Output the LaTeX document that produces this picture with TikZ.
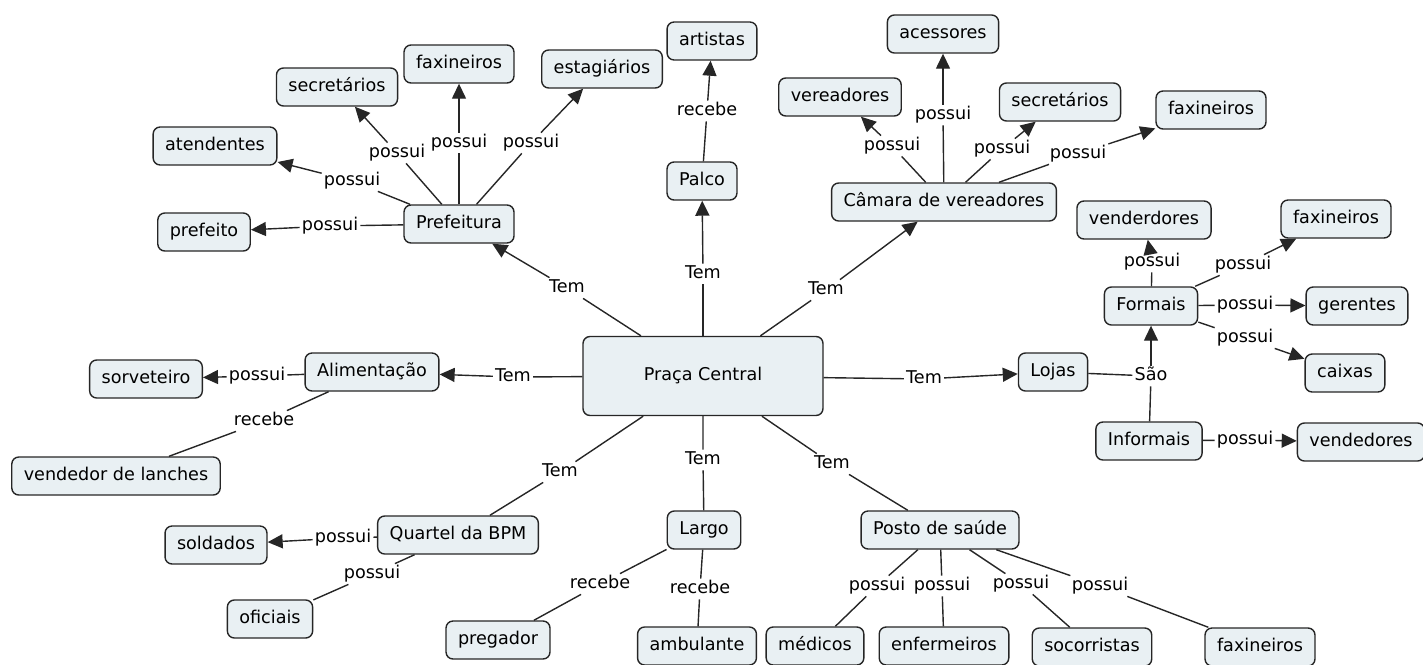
\documentclass[tikz,border=0pt]{standalone}
\usepackage{fontspec}
\setmainfont{DejaVu Sans}
\usetikzlibrary{arrows.meta}
\definecolor{cmapfill}{RGB}{233,240,243}
\begin{document}
\begin{tikzpicture}[
    x=1pt, y=-1pt,
    every node/.style={font=\fontsize{17.6}{20}\selectfont, text height=12.8pt, text depth=3.6pt},
    concept/.style={draw=black!85, fill=cmapfill, rounded corners=7pt, line width=1.4pt, inner xsep=12pt, minimum height=38pt},
    phrase/.style={inner sep=2pt, fill=white},
    link/.style={line width=1.4pt, draw=black!85},
    arr/.style={link, -{Triangle[length=15pt,width=14pt]}}
]
\useasboundingbox (0,0) rectangle (1423,664);
\node[concept, minimum width=240pt, minimum height=79pt] (pc) at (703,376) {Praça Central};
\node[concept] (pref) at (459,224) {Prefeitura};
\node[concept] (prefeito) at (204,232) {prefeito};
\node[concept] (aten) at (215,146) {atendentes};
\node[concept] (sec1) at (337,87) {secretários};
\node[concept] (fax1) at (459,64) {faxineiros};
\node[concept] (estag) at (602,69) {estagiários};
\node[concept] (palco) at (702,181) {Palco};
\node[concept] (art) at (712,41) {artistas};
\node[concept] (cam) at (944,202) {Câmara de vereadores};
\node[concept] (acess) at (943,34) {acessores};
\node[concept] (ver) at (840,97) {vereadores};
\node[concept] (sec2) at (1060,102) {secretários};
\node[concept] (fax2) at (1211,110) {faxineiros};
\node[concept] (lojas) at (1053,372) {Lojas};
\node[concept] (form) at (1151,306) {Formais};
\node[concept] (infor) at (1149,441) {Informais};
\node[concept] (vend1) at (1144,220) {venderdores};
\node[concept] (fax3) at (1336,219) {faxineiros};
\node[concept] (ger) at (1357,306) {gerentes};
\node[concept] (cx) at (1345,373) {caixas};
\node[concept] (vend2) at (1361,442) {vendedores};
\node[concept] (alim) at (372,372) {Alimentação};
\node[concept] (sorv) at (146,379) {sorveteiro};
\node[concept] (lanche) at (116,476) {vendedor de lanches};
\node[concept] (qbpm) at (458,535) {Quartel da BPM};
\node[concept] (sold) at (216,545) {soldados};
\node[concept] (ofic) at (270,619) {oficiais};
\node[concept] (largo) at (704,530) {Largo};
\node[concept] (preg) at (498,640) {pregador};
\node[concept] (amb) at (697,646) {ambulante};
\node[concept] (posto) at (940,530) {Posto de saúde};
\node[concept] (med) at (815,646) {médicos};
\node[concept] (enf) at (944,646) {enfermeiros};
\node[concept] (soc) at (1092,647) {socorristas};
\node[concept] (fax4) at (1260,647) {faxineiros};

\node[phrase] (tpref) at (567,288) {Tem};
\node[phrase] (tpalco) at (703,274) {Tem};
\node[phrase] (tcam) at (826,290) {Tem};
\node[phrase] (tlojas) at (924,379) {Tem};
\node[phrase] (talim) at (513,377) {Tem};
\node[phrase] (tqbpm) at (560,472) {Tem};
\node[phrase] (tlargo) at (703,460) {Tem};
\node[phrase] (tposto) at (832,464) {Tem};
\node[phrase] (pprefeito) at (330,226) {possui};
\node[phrase] (paten) at (352,181) {possui};
\node[phrase] (psec1) at (397,153) {possui};
\node[phrase] (pfax1) at (459,143) {possui};
\node[phrase] (pestag) at (531,143) {possui};
\node[phrase] (rart) at (707,111) {recebe};
\node[phrase] (pver) at (892,146) {possui};
\node[phrase] (pacess) at (943,115) {possui};
\node[phrase] (psec2) at (1002,149) {possui};
\node[phrase] (pfax2) at (1078,154) {possui};
\node[phrase] (sao) at (1151,376) {São};
\node[phrase] (pvend1) at (1152,262) {possui};
\node[phrase] (pfax3) at (1243,265) {possui};
\node[phrase] (pger) at (1245,305) {possui};
\node[phrase] (pcx) at (1245,338) {possui};
\node[phrase] (pvend2) at (1245,440) {possui};
\node[phrase] (psorv) at (257,376) {possui};
\node[phrase] (rlanche) at (264,421) {recebe};
\node[phrase] (psold) at (343,538) {possui};
\node[phrase] (pofic) at (372,574) {possui};
\node[phrase] (rpreg) at (600,584) {recebe};
\node[phrase] (ramb) at (700,589) {recebe};
\node[phrase] (pmed) at (877,586) {possui};
\node[phrase] (penf) at (942,586) {possui};
\node[phrase] (psoc) at (1021,584) {possui};
\node[phrase] (pfax4) at (1100,586) {possui};

\draw[link] (pc) -- (tpref);  \draw[arr] (tpref) -- (pref);
\draw[link] (pc) -- (tpalco); \draw[arr] (tpalco) -- (palco);
\draw[link] (pc) -- (tcam);   \draw[arr] (tcam) -- (cam);
\draw[link] (pc) -- (tlojas); \draw[arr] (tlojas) -- (lojas);
\draw[link] (pc) -- (talim);  \draw[arr] (talim) -- (alim);
\draw[link] (pc) -- (tqbpm) -- (qbpm);
\draw[link] (pc) -- (tlargo) -- (largo);
\draw[link] (pc) -- (tposto) -- (posto);
\draw[link] (pref) -- (pprefeito); \draw[arr] (pprefeito) -- (prefeito);
\draw[link] (pref) -- (paten);     \draw[arr] (paten) -- (aten);
\draw[link] (pref) -- (psec1);     \draw[arr] (psec1) -- (sec1);
\draw[link] (pref) -- (pfax1);     \draw[arr] (pfax1) -- (fax1);
\draw[link] (pref) -- (pestag);    \draw[arr] (pestag) -- (estag);
\draw[link] (palco) -- (rart);     \draw[arr] (rart) -- (art);
\draw[link] (cam) -- (pver);       \draw[arr] (pver) -- (ver);
\draw[link] (cam) -- (pacess);     \draw[arr] (pacess) -- (acess);
\draw[link] (cam) -- (psec2);      \draw[arr] (psec2) -- (sec2);
\draw[link] (cam) -- (pfax2);      \draw[arr] (pfax2) -- (fax2);
\draw[link] (lojas) -- (sao);      \draw[arr] (sao) -- (form);
\draw[link] (sao) -- (infor);
\draw[link] (form) -- (pvend1);    \draw[arr] (pvend1) -- (vend1);
\draw[link] (form) -- (pfax3);     \draw[arr] (pfax3) -- (fax3);
\draw[link] (form) -- (pger);      \draw[arr] (pger) -- (ger);
\draw[link] (form) -- (pcx);       \draw[arr] (pcx) -- (cx);
\draw[link] (infor) -- (pvend2);   \draw[arr] (pvend2) -- (vend2);
\draw[link] (alim) -- (psorv);     \draw[arr] (psorv) -- (sorv);
\draw[link] (alim) -- (rlanche) -- (lanche);
\draw[link] (qbpm) -- (psold);     \draw[arr] (psold) -- (sold);
\draw[link] (qbpm) -- (pofic) -- (ofic);
\draw[link] (largo) -- (rpreg) -- (preg);
\draw[link] (largo) -- (ramb) -- (amb);
\draw[link] (posto) -- (pmed) -- (med);
\draw[link] (posto) -- (penf) -- (enf);
\draw[link] (posto) -- (psoc) -- (soc);
\draw[link] (posto) -- (pfax4) -- (fax4);
\end{tikzpicture}
\end{document}
